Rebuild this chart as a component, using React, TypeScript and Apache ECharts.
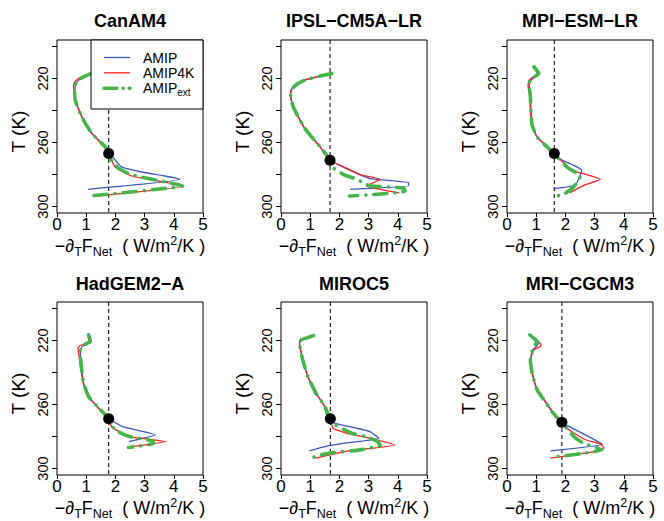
import React, { useEffect, useRef } from "react";
import * as echarts from "echarts";

const FONT = "'Liberation Sans', Arial, Helvetica, sans-serif";

const MODELS = ["CanAM4", "IPSL−CM5A−LR", "MPI−ESM−LR", "HadGEM2−A", "MIROC5", "MRI−CGCM3"];
const SERIES_NAMES = ["AMIP", "AMIP4K", "AMIPext"];
const X_TICKS = [0, 1, 2, 3, 4, 5];
const T_TICKS = [200, 220, 240, 260, 280, 300];
const T_LABELS = [220, 260, 300];

// [x = -dT F_Net (W/m2/K), T (K)]
const canAmip = [[1.2,216.5],[0.95,218.3],[0.78,220.5],[0.68,222.5],[0.62,225.5],[0.63,233],[0.8,241.9],[0.97,248.1],[1.2,254.4],[1.48,259.6],[1.71,263.8],[1.82,267],[1.95,270],[2.21,275.2],[2.9,278.4],[3.7,280.9],[4.21,283],[1.07,289.2]];
const canAmip4k = [[1.2,216.5],[0.92,218.3],[0.7,220.5],[0.58,223],[0.57,226],[0.62,233.5],[0.8,241.9],[0.97,248.1],[1.2,254.4],[1.48,259.6],[1.71,263.8],[1.8,267],[1.87,271],[1.99,275.2],[2.56,280.9],[3.36,283.6],[4.33,287.1],[1.3,293.4]];
const canAmipExt = [[1.22,216.5],[0.97,218.5],[0.76,220.6],[0.64,223.1],[0.6,226.3],[0.62,233.5],[0.8,241.9],[0.97,248.1],[1.2,254.4],[1.48,259.6],[1.71,263.8],[1.8,267.5],[1.86,271],[2.1,276],[2.5,279.8],[3.13,282.5],[3.98,285.6],[4.3,287],[1.07,293.4]];

const ipslAmip = [[1.74,216.9],[1.34,218.5],[0.88,220.6],[0.59,223.1],[0.42,225.6],[0.33,228.3],[0.34,232.5],[0.42,237.7],[0.59,244],[0.82,251.3],[1.05,256.5],[1.34,262.7],[1.68,271],[2.25,276.3],[3.05,282.5],[4.37,285],[4.37,287],[2.37,289.2]];
const ipslAmip4k = [[1.74,216.9],[1.34,218.5],[0.88,220.6],[0.59,223.1],[0.42,225.6],[0.33,228.3],[0.34,232.5],[0.42,237.7],[0.59,244],[0.82,251.3],[1.05,256.5],[1.34,262.7],[1.68,271],[2.14,275.2],[2.71,280],[3.4,283],[2.94,287.1],[3.86,290.9],[4.05,291.4]];
const ipslAmipExt = [[1.74,216.9],[1.34,218.5],[0.88,220.6],[0.59,223.1],[0.42,225.6],[0.33,228.3],[0.34,232.5],[0.42,237.7],[0.59,244],[0.82,251.3],[1.05,256.5],[1.34,262.7],[1.68,271],[1.72,275],[2.2,280.5],[2.55,282.5],[2.9,286],[3.1,287.2],[4.2,288.4],[4.25,290.3],[3.8,291.5],[3.0,292.7],[2.35,293.4]];

const mpiAmip = [[0.92,212.7],[1.12,216.5],[0.88,220],[0.76,223],[0.8,231.5],[0.82,239.8],[0.86,249.2],[1.03,256.5],[1.37,262.7],[1.6,266.9],[1.89,271],[2.28,274.2],[2.56,277.3],[2.51,280.4],[2.33,286.7],[1.59,288.8]];
const mpiAmip4k = [[0.9,213],[1.05,217],[0.78,220.5],[0.72,224.2],[0.78,231.5],[0.8,239.8],[0.86,249.2],[1.03,256.5],[1.37,262.7],[1.6,266.9],[1.84,271],[2.22,277.3],[2.79,280.4],[3.2,283],[2.68,286.3],[2.16,291.3]];
const mpiAmipExt = [[0.92,212.7],[1.09,216.9],[0.86,220],[0.74,223.1],[0.78,228],[0.8,231.5],[0.82,239.8],[0.86,249.2],[1.03,256.5],[1.37,262.7],[1.6,266.9],[1.85,271.5],[2.1,276],[2.35,278.6],[2.5,281.5],[2.45,284],[2.22,288.8],[1.87,293],[1.53,293.2]];

const hadAmip = [[1.08,216.5],[1.14,220.6],[0.92,223],[0.82,225],[0.8,230],[0.86,240.4],[0.91,246.7],[1.08,255],[1.42,262],[1.8,268.9],[2.23,273.7],[2.69,275.8],[3.37,278.9],[2.46,283.1]];
const hadAmip4k = [[1.06,216.8],[1.1,221],[0.78,223.3],[0.72,225],[0.76,230],[0.84,240.4],[0.9,246.7],[1.06,255],[1.35,261],[1.72,268.5],[1.88,274],[2.45,280],[3.02,281.4],[3.71,283.1],[2.39,286.8]];
const hadAmipExt = [[1.08,216.5],[1.14,220.6],[0.86,223.3],[0.8,226],[0.8,230],[0.86,240.4],[0.91,246.7],[1.08,255],[1.37,261],[1.77,268.9],[1.88,273.5],[2.1,277],[2.45,279.8],[2.8,281],[3.3,283],[3.3,284.3],[2.45,286.8]];

const mirocAmip = [[1.1,217],[0.88,218.3],[0.7,219.6],[0.64,221.7],[0.65,223.8],[0.74,232],[0.92,242.5],[1.2,253],[1.49,261],[1.54,265.4],[1.69,268.9],[1.83,271.6],[2.57,274.7],[3.03,276.8],[3.35,281],[2.23,284],[1.54,286.2],[0.97,288.9]];
const mirocAmip4k = [[1.1,217],[0.85,218.3],[0.66,219.8],[0.63,222],[0.65,224],[0.74,232],[0.92,242.5],[1.2,253],[1.49,261],[1.62,265.4],[1.72,269],[1.77,274.7],[2.23,277.8],[3.03,281],[3.89,285.2],[2.23,289.2],[1.2,293.4]];
const mirocAmipExt = [[1.11,217],[0.9,218.3],[0.69,219.6],[0.64,221.7],[0.65,223.8],[0.74,232],[0.92,242.5],[1.2,253],[1.49,261],[1.6,265.4],[1.69,268.9],[1.85,272.7],[2.4,277.8],[2.9,280],[3.3,283],[3.4,285.5],[2.7,288.3],[1.8,290],[1.35,291.5],[1.03,293.4]];

const mriAmip = [[0.78,216.5],[0.92,218.5],[1.08,221.5],[1.03,223.3],[0.88,226],[0.8,232],[0.86,240.4],[1.03,250.8],[1.26,257],[1.54,264.4],[1.86,271],[2.23,274.7],[2.8,280],[3.2,284.1],[3.26,285],[1.49,289]];
const mriAmip4k = [[0.8,216.5],[0.95,218.5],[1.16,222.5],[1.14,223.8],[0.9,226],[0.82,232],[0.87,240.4],[1.04,250.8],[1.27,257],[1.56,264.4],[1.86,271],[2.12,275.8],[2.69,282],[3.2,284.7],[3.32,287.2],[3.03,289.3],[1.49,293.5]];
const mriAmipExt = [[0.78,216.5],[0.9,218.5],[1.03,220.6],[0.95,223],[0.86,226.9],[0.8,232],[0.86,240.4],[1.03,250.8],[1.26,257],[1.54,264.4],[1.86,271],[2.1,276],[2.35,281],[2.65,284.5],[3.0,286.5],[3.25,288.3],[2.4,291],[1.5,293]];

const AMIP_DATA = [canAmip, ipslAmip, mpiAmip, hadAmip, mirocAmip, mriAmip];
const AMIP4K_DATA = [canAmip4k, ipslAmip4k, mpiAmip4k, hadAmip4k, mirocAmip4k, mriAmip4k];
const AMIPEXT_DATA = [canAmipExt, ipslAmipExt, mpiAmipExt, hadAmipExt, mirocAmipExt, mriAmipExt];

const REF_X = [1.77, 1.68, 1.62, 1.77, 1.69, 1.88];
const DOT_T = [266.9, 271, 266.9, 268.9, 268.9, 271];

const COLORS = ["#3a5bc0", "#ff1f1f", "#45b54a"];

const LEFTS = [57, 281, 507];
const TOPS = [40, 302];
const GW = 146;
const GH = 173;

const X_NAME = "{m|−∂}{s|T}{m|F}{s|Net}{m|  ( W/m}{p|2}{m|/K )}";

export default function App() {
  const ref = useRef<HTMLDivElement>(null);
  useEffect(() => {
    if (!ref.current) return;
    const chart = echarts.init(ref.current, null, { renderer: "svg" });
    const grids: any[] = [];
    const xAxes: any[] = [];
    const yAxes: any[] = [];
    const series: any[] = [];
    const graphics: any[] = [];

    MODELS.forEach((name, i) => {
      const left = LEFTS[i % 3];
      const top = TOPS[Math.floor(i / 3)];
      grids.push({ left, top, width: GW, height: GH, show: true, borderColor: "#000", borderWidth: 1, backgroundColor: "transparent" });
      xAxes.push({
        gridIndex: i, type: "value", min: X_TICKS[0], max: X_TICKS[X_TICKS.length - 1], interval: 1,
        axisLine: { show: false },
        axisTick: { show: true, length: 4, lineStyle: { color: "#000" } },
        axisLabel: { fontSize: 17, color: "#000", margin: 3, fontFamily: FONT },
        splitLine: { show: false },
        name: X_NAME, nameLocation: "middle", nameGap: 21,
        nameTextStyle: {
          color: "#000", fontFamily: FONT, fontSize: 18,
          rich: {
            m: { fontSize: 18, lineHeight: 24, verticalAlign: "middle", fontFamily: FONT, color: "#000" },
            s: { fontSize: 12.5, lineHeight: 12, verticalAlign: "bottom", fontFamily: FONT, color: "#000" },
            p: { fontSize: 12.5, lineHeight: 11, verticalAlign: "top", fontFamily: FONT, color: "#000" },
          },
        },
      });
      yAxes.push({
        gridIndex: i, type: "value", inverse: true, min: 196, max: 304,
        axisLine: { show: false },
        axisTick: { show: true, length: 5, customValues: T_TICKS, lineStyle: { color: "#000" } },
        axisLabel: { customValues: T_LABELS, rotate: 90, fontSize: 14.5, color: "#000", margin: 7, fontFamily: FONT },
        splitLine: { show: false },
        name: "T (K)", nameLocation: "middle", nameGap: 29,
        nameTextStyle: { fontSize: 19, color: "#000", fontFamily: FONT, padding: [0, 10, 0, 0] },
      });
      series.push({
        type: "line", xAxisIndex: i, yAxisIndex: i, silent: true, symbol: "none", z: 1,
        data: [[REF_X[i], 196], [REF_X[i], 304]],
        lineStyle: { color: "#111", width: 1.1, type: [4, 3] },
      });
      [AMIP_DATA, AMIP4K_DATA].forEach((arr, k) => {
        series.push({
          name: SERIES_NAMES[k], type: "line", xAxisIndex: i, yAxisIndex: i, symbol: "none", z: 2,
          smooth: 0.15, data: arr[i],
          lineStyle: { color: COLORS[k], width: 1.3 },
        });
      });
      series.push({
        name: SERIES_NAMES[2], type: "line", xAxisIndex: i, yAxisIndex: i, symbol: "none", z: 3,
        smooth: 0.15, data: AMIPEXT_DATA[i],
        lineStyle: { color: COLORS[2], width: 3.6, type: [13, 8, 0.1, 8], cap: "round", join: "round" },
      });
      series.push({
        type: "scatter", xAxisIndex: i, yAxisIndex: i, z: 4, silent: true,
        symbol: "circle", symbolSize: 11, itemStyle: { color: "#000", opacity: 1 },
        data: [[REF_X[i], DOT_T[i]]],
      });
      graphics.push({
        type: "text", z: 100,
        x: left + GW / 2, y: top === TOPS[0] ? 21 : 284,
        style: {
          text: name, fontSize: 18, fontWeight: "bold", fontFamily: FONT, fill: "#000",
          align: "center", verticalAlign: "middle", textAlign: "center", textVerticalAlign: "middle",
        },
      });
    });

    // legend in first panel
    const lx = 91, ly = 40;
    graphics.push({
      type: "rect", z: 100,
      shape: { x: lx, y: ly, width: LEFTS[0] + GW - lx, height: 69 },
      style: { fill: "#fff", stroke: "#000", lineWidth: 1 },
    });
    const rowsY = [57.5, 72.8, 88.3];
    SERIES_NAMES.forEach((nm, k) => {
      graphics.push({
        type: "line", z: 101,
        shape: { x1: 104, y1: rowsY[k], x2: 130, y2: rowsY[k] },
        style: k === 2
          ? { stroke: COLORS[2], lineWidth: 3.6, lineDash: [13, 6, 0.1, 6], lineCap: "round" }
          : { stroke: COLORS[k], lineWidth: 1.3 },
      });
      const txt = k === 2 ? "{m|AMIP}{s|ext}" : "{m|" + nm + "}";
      graphics.push({
        type: "text", z: 101, x: 143, y: rowsY[k],
        style: {
          text: txt, fill: "#000", fontSize: 14, fontFamily: FONT,
          align: "left", verticalAlign: "middle", textAlign: "left", textVerticalAlign: "middle",
          rich: {
            m: { fontSize: 14, lineHeight: 18, verticalAlign: "middle", fontFamily: FONT, fill: "#000", color: "#000" },
            s: { fontSize: 10, lineHeight: 10, verticalAlign: "bottom", fontFamily: FONT, fill: "#000", color: "#000" },
          },
        },
      });
    });

    chart.setOption({
      animation: false,
      backgroundColor: "#fff",
      grid: grids,
      xAxis: xAxes,
      yAxis: yAxes,
      series,
      graphic: graphics,
    });
    return () => chart.dispose();
  }, []);
  return <div ref={ref} style={{ position: "fixed", left: 0, top: 0, width: 664, height: 521, background: "#fff" }} />;
}
